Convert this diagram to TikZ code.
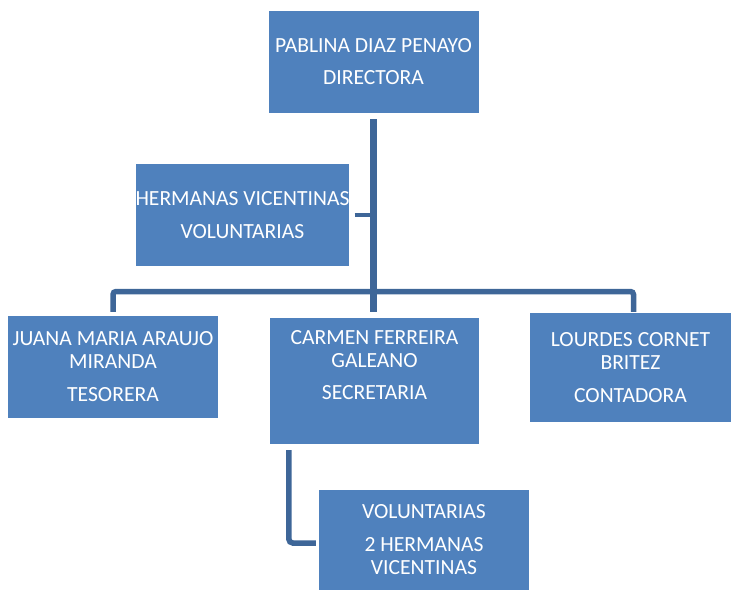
\documentclass[tikz,border=0pt]{standalone}
\usepackage{fontspec}
\setmainfont{Carlito}
\definecolor{boxblue}{HTML}{4F81BD}
\definecolor{linkblue}{HTML}{3E6698}
\begin{document}
\begin{tikzpicture}[x=1pt,y=-1pt,
  orgbox/.style={fill=boxblue, draw=none, text=white, align=center, inner sep=0pt,
    font=\fontsize{21.6}{23}\selectfont},
  conn/.style={draw=linkblue, line width=5.5pt}]
\useasboundingbox (0,0) rectangle (731,590);
\node[orgbox, minimum width=210pt, minimum height=102pt] (top) at (373.5,62)
  {PABLINA DIAZ PENAYO\\[9pt]DIRECTORA};
\node[orgbox, minimum width=211pt, minimum height=102pt] (herm) at (242.5,215)
  {HERMANAS VICENTINAS\\[10pt]VOLUNTARIAS};
\node[orgbox, minimum width=210pt, minimum height=102pt] (left) at (113,367)
  {JUANA MARIA ARAUJO\\MIRANDA\\[10pt]TESORERA};
\node[orgbox, minimum width=209pt, minimum height=126pt, text depth=32pt] (mid) at (374.5,381)
  {CARMEN FERREIRA\\GALEANO\\[9pt]SECRETARIA};
\node[orgbox, minimum width=201pt, minimum height=109pt] (right) at (630.5,367.5)
  {LOURDES CORNET\\BRITEZ\\[10pt]CONTADORA};
\node[orgbox, minimum width=210pt, minimum height=100pt] (bot) at (424,540)
  {VOLUNTARIAS\\[10pt]2 HERMANAS\\VICENTINAS};
\coordinate (bar) at (373.5,291.5);
% trunk
\draw[conn, line width=6.5pt, shorten <=6pt, shorten >=6pt] (top.south) -- (top.south |- mid.north);
% assistant
\draw[conn, line width=4pt, shorten <=5pt] (herm.east) -- (herm.east -| top.south);
% bus
\draw[conn, rounded corners=3pt, shorten <=4pt, shorten >=1pt]
  (left.north) |- (bar) -| ([xshift=3pt]right.north);
% secretaria to voluntarias
\draw[conn, rounded corners=4pt, shorten <=6pt, shorten >=3pt]
  ([xshift=19pt]mid.south west) |- ([yshift=-3pt]bot.west);
\end{tikzpicture}
\end{document}
